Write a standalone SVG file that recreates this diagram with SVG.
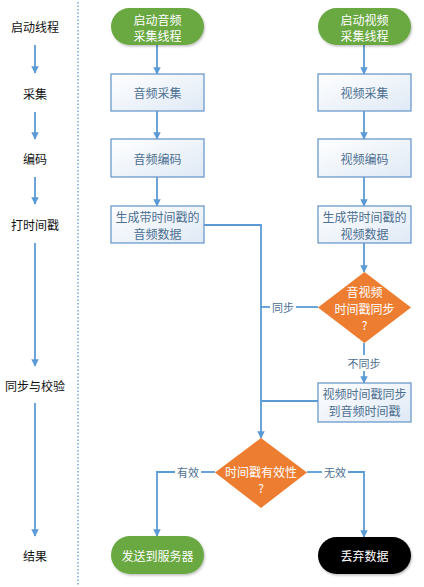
<svg xmlns="http://www.w3.org/2000/svg" width="424" height="587" viewBox="0 0 424 587">
<defs>
<linearGradient id="boxg" x1="0" y1="0" x2="1" y2="1">
<stop offset="0" stop-color="#ffffff"/>
<stop offset="1" stop-color="#dfe9f5"/>
</linearGradient>
<marker id="ah" viewBox="0 0 10 10" refX="9" refY="5" markerWidth="4.2" markerHeight="4.2" orient="auto">
<path d="M0,0 L10,5 L0,10 z" fill="#5b9bd5"/>
</marker>
<filter id="sh" x="-10%" y="-10%" width="130%" height="140%">
<feDropShadow dx="1" dy="1.5" stdDeviation="1.2" flood-color="#000" flood-opacity="0.25"/>
</filter>
</defs>
<style>
text{font-family:"Noto Sans CJK SC","Liberation Sans",sans-serif;font-size:12px;text-anchor:middle;dominant-baseline:central}
.lbl{fill:#111}
.box{fill:url(#boxg);stroke:#6c9acb;stroke-width:1.3}
.bt{fill:#4d6f91}
.wt{fill:#ffffff}
.term{fill:#6aa842;filter:url(#sh)}
.black{fill:#000;filter:url(#sh)}
.dia{fill:#ed7d31}
.c{fill:none;stroke:#5b9bd5;stroke-width:1.8}
.ca{fill:none;stroke:#5b9bd5;stroke-width:1.8;marker-end:url(#ah)}
.cl{fill:#4d6f91;font-size:11px}
</style>
<rect width="424" height="587" fill="#fff"/>
<line x1="78" y1="2" x2="78" y2="585" stroke="#5b9bd5" stroke-width="1.3" stroke-dasharray="1.5,2"/>
<g id="stages">
<text class="lbl" x="35" y="26">启动线程</text>
<text class="lbl" x="35" y="93">采集</text>
<text class="lbl" x="35" y="158">编码</text>
<text class="lbl" x="35" y="224">打时间戳</text>
<text class="lbl" x="35" y="385">同步与校验</text>
<text class="lbl" x="35" y="555">结果</text>
</g>
<g id="connectors">
<line class="ca" x1="35" y1="45" x2="35" y2="73"/>
<line class="ca" x1="35" y1="112" x2="35" y2="139"/>
<line class="ca" x1="35" y1="177" x2="35" y2="204"/>
<line class="ca" x1="35" y1="243" x2="35" y2="366"/>
<line class="ca" x1="35" y1="403" x2="35" y2="536"/>
<line class="ca" x1="157" y1="45" x2="157" y2="74"/>
<line class="ca" x1="157" y1="111" x2="157" y2="139"/>
<line class="ca" x1="157" y1="177" x2="157" y2="206"/>
<line class="ca" x1="364" y1="45" x2="364" y2="74"/>
<line class="ca" x1="364" y1="111" x2="364" y2="139"/>
<line class="ca" x1="364" y1="177" x2="364" y2="206"/>
<line class="ca" x1="364" y1="243" x2="364" y2="272"/>
<polyline class="ca" points="204,225 261,225 261,438"/>
<line class="c" x1="318" y1="307" x2="296" y2="307"/>
<line class="c" x1="270" y1="307" x2="261" y2="307"/>
<text class="cl" x="283" y="307">同步</text>
<line class="c" x1="364" y1="343" x2="364" y2="355"/>
<line class="ca" x1="364" y1="371" x2="364" y2="383"/>
<text class="cl" x="364" y="363">不同步</text>
<line class="c" x1="318" y1="401" x2="261" y2="401"/>
<polyline class="c" points="215,472 201,472"/>
<polyline class="ca" points="175,472 157,472 157,536"/>
<text class="cl" x="188" y="472">有效</text>
<polyline class="c" points="307,472 322,472"/>
<polyline class="ca" points="348,472 364,472 364,537"/>
<text class="cl" x="335" y="472">无效</text>
</g>
<g id="start-audio">
<rect class="term" x="111" y="8" width="93" height="37" rx="18.5"/>
<text class="wt" x="157.5" y="19">启动音频</text>
<text class="wt" x="157.5" y="35">采集线程</text>
</g>
<g id="start-video">
<rect class="term" x="318" y="8" width="93" height="37" rx="18.5"/>
<text class="wt" x="364.5" y="19">启动视频</text>
<text class="wt" x="364.5" y="35">采集线程</text>
</g>
<g id="audio-capture">
<rect class="box" x="111" y="74" width="93" height="37"/>
<text class="bt" x="157.5" y="92.5">音频采集</text>
</g>
<g id="video-capture">
<rect class="box" x="318" y="74" width="93" height="37"/>
<text class="bt" x="364.5" y="92.5">视频采集</text>
</g>
<g id="audio-encode">
<rect class="box" x="111" y="139" width="93" height="38"/>
<text class="bt" x="157.5" y="158">音频编码</text>
</g>
<g id="video-encode">
<rect class="box" x="318" y="139" width="93" height="38"/>
<text class="bt" x="364.5" y="158">视频编码</text>
</g>
<g id="audio-ts">
<rect class="box" x="111" y="206" width="93" height="37"/>
<text class="bt" x="157.5" y="216">生成带时间戳的</text>
<text class="bt" x="157.5" y="233">音频数据</text>
</g>
<g id="video-ts">
<rect class="box" x="318" y="206" width="93" height="37"/>
<text class="bt" x="364.5" y="216">生成带时间戳的</text>
<text class="bt" x="364.5" y="233">视频数据</text>
</g>
<g id="sync-check">
<polygon class="dia" points="364.5,272 411,307.5 364.5,343 318,307.5"/>
<text class="wt" x="364.5" y="291">音视频</text>
<text class="wt" x="364.5" y="308">时间戳同步</text>
<text class="wt" x="364.5" y="324">?</text>
</g>
<g id="sync-fix">
<rect class="box" x="318" y="383" width="93" height="39"/>
<text class="bt" x="364.5" y="393">视频时间戳同步</text>
<text class="bt" x="364.5" y="410">到音频时间戳</text>
</g>
<g id="valid-check">
<polygon class="dia" points="261,438 307,472.5 261,508 215,472.5"/>
<text class="wt" x="261" y="471">时间戳有效性</text>
<text class="wt" x="261" y="487">?</text>
</g>
<g id="send">
<rect class="term" x="111" y="536" width="93" height="38" rx="19"/>
<text class="wt" x="157.5" y="555">发送到服务器</text>
</g>
<g id="discard">
<rect class="black" x="318" y="537" width="93" height="37" rx="18.5"/>
<text class="wt" x="364.5" y="555.5">丢弃数据</text>
</g>
</svg>
